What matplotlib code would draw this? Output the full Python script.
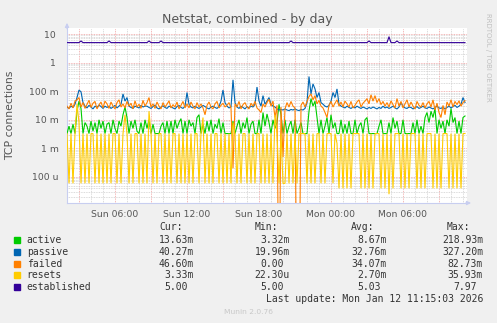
import numpy as np
import matplotlib
matplotlib.use("Agg")
import matplotlib.pyplot as plt
from matplotlib.ticker import FixedLocator, NullFormatter



# samples every 10 minutes, starting Sun 02:00 (hours since Sun 00:00)
t_start = 2.0
t_step = 1.0 / 6.0

# all series below in milli-connections
active_m = [
    3.3, 6, 3.3, 7, 3.3, 20, 45, 25, 3.3, 8, 6, 3.3, 9, 4, 8, 3.3, 10, 5, 9, 3.3,
    7, 8, 3.3, 10, 5, 3.3, 9, 6, 15, 28, 12, 3.3, 9, 5, 10, 4, 3.3, 8, 3.3, 10,
    5, 10, 3.3, 7, 3.3, 3.3, 3.3, 6, 8, 3.3, 9, 3.3, 9, 3.3, 10, 5, 8, 11, 3.3, 9,
    3.3, 10, 6, 8, 3.3, 12, 15, 3.3, 7, 3.3, 9, 4, 10, 3.3, 7, 5, 11, 3.3, 8, 3.3,
    3.3, 3.3, 3.3, 9, 3.3, 6, 10, 3.3, 8, 5, 12, 3.3, 7, 9, 3.3, 3.3, 10, 3.3, 18, 6,
    16, 8, 3.3, 10, 5, 8, 35, 15, 3.3, 10, 3.3, 6, 9, 3.3, 10, 3.3, 5, 8, 3.3, 3.3,
    3.3, 20, 55, 30, 45, 12, 3.3, 10, 3.3, 6, 12, 3.3, 15, 5, 8, 3.3, 3.3, 10, 3.3, 7,
    3.3, 9, 3.3, 3.3, 10, 3.3, 6, 8, 3.3, 10, 12, 3.3, 3.3, 3.3, 3.3, 3.3, 6, 10, 3.3, 3.3,
    3.3, 8, 3.3, 12, 5, 9, 3.3, 3.3, 10, 3.3, 3.3, 3.3, 3.3, 8, 3.3, 10, 3.3, 6, 3.3, 12,
    18, 8, 20, 12, 25, 3.3, 10, 5, 9, 3.3, 10, 6, 25, 8, 12, 3.3, 9, 3.3, 12, 13.6,
]

passive_m = [
    28, 25, 30, 27, 35, 60, 110, 95, 40, 30, 26, 32, 28, 24, 30, 27, 33, 29, 25, 30,
    27, 30, 25, 28, 32, 26, 30, 35, 80, 45, 60, 30, 27, 25, 30, 28, 26, 32, 28, 30,
    30, 27, 25, 29, 33, 26, 24, 28, 31, 27, 25, 30, 28, 26, 24, 29, 32, 27, 25, 30,
    90, 35, 28, 26, 30, 27, 25, 28, 32, 29, 26, 24, 28, 30, 27, 25, 29, 45, 110, 40,
    30, 26, 28, 250, 40, 28, 25, 30, 27, 24, 29, 26, 30, 28, 35, 140, 45, 30, 70, 35,
    45, 60, 35, 30, 28, 24, 22, 23, 22, 24, 22, 21, 23, 22, 24, 22, 21, 23, 22, 25,
    40, 327, 80, 180, 120, 60, 90, 40, 35, 30, 28, 32, 45, 90, 60, 120, 35, 30, 28, 26,
    30, 27, 25, 28, 26, 30, 27, 25, 28, 26, 24, 27, 25, 28, 26, 24, 27, 25, 30, 26,
    28, 25, 27, 30, 26, 24, 28, 40, 30, 26, 25, 28, 27, 24, 26, 29, 25, 27, 30, 26,
    25, 28, 26, 24, 27, 30, 26, 25, 28, 24, 27, 30, 26, 29, 32, 27, 30, 35, 60, 40.27,
]

failed_m = [
    30, 24, 38, 26, 45, 50, 60, 28, 40, 25, 35, 48, 27, 38, 44, 24, 33, 42, 26, 45,
    36, 25, 42, 30, 24, 40, 50, 28, 36, 26, 44, 30, 38, 24, 46, 28, 35, 25, 48, 30,
    40, 60, 28, 36, 25, 42, 30, 24, 40, 28, 35, 46, 26, 34, 28, 42, 24, 32, 44, 26,
    36, 26, 42, 30, 24, 40, 28, 36, 26, 15, 32, 42, 28, 24, 36, 44, 26, 32, 38, 28,
    32, 40, 26, 0.2, 36, 28, 44, 24, 34, 40, 28, 24, 38, 30, 44, 26, 22, 18, 36, 28,
    40, 52, 30, 45, 12, 32, 0, 28, 0.5, 24, 40, 28, 44, 30, 26, 0, 0, 32, 42, 28,
    44, 65, 80, 50, 70, 36, 48, 30, 26, 18, 12, 32, 44, 28, 38, 50, 30, 42, 28, 45,
    36, 28, 44, 26, 32, 42, 50, 28, 38, 45, 55, 36, 75, 45, 70, 40, 55, 34, 44, 30,
    40, 28, 46, 34, 26, 55, 30, 44, 26, 36, 50, 28, 42, 30, 24, 44, 32, 28, 40, 26,
    36, 44, 28, 50, 22, 38, 18, 12, 32, 15, 42, 30, 50, 28, 44, 34, 46, 30, 40, 46.6,
]

resets_m = [
    3.3, 0.06, 3.3, 0.06, 3.3, 36, 8, 0.06, 3.3, 0.06, 3.3, 0.06, 3.3, 3.3, 0.06, 3.3, 0.06, 3.3, 0.06, 3.3,
    0.06, 3.3, 0.06, 3.3, 3.3, 0.06, 3.3, 0.06, 3.3, 15, 3.3, 0.06, 3.3, 0.06, 3.3, 3.3, 0.06, 3.3, 0.06, 3.3,
    0.06, 20, 3.3, 0.06, 3.3, 0.06, 3.3, 3.3, 0.06, 3.3, 0.06, 3.3, 0.06, 3.3, 3.3, 0.06, 3.3, 0.06, 3.3, 0.06,
    3.3, 0.06, 3.3, 0.06, 3.3, 3.3, 0.06, 3.3, 12, 0.06, 3.3, 0.06, 3.3, 0.06, 3.3, 3.3, 0.06, 3.3, 0.06, 3.3,
    0.06, 3.3, 0.06, 8, 3.3, 0.06, 3.3, 0.06, 3.3, 3.3, 0.06, 3.3, 0.06, 3.3, 0.06, 3.3, 3.3, 0.06, 3.3, 0.06,
    3.3, 0.06, 3.3, 0.06, 15, 3.3, 0.06, 3.3, 0.06, 0.06, 3.3, 0.06, 3.3, 0.06, 3.3, 0.06, 3.3, 3.3, 3.3, 3.3,
    0.06, 3.3, 0.06, 3.3, 0.06, 3.3, 3.3, 0.06, 3.3, 0.06, 3.3, 3.3, 3.3, 0.06, 3.3, 1.5, 0.04, 3.3, 0.04, 3.3,
    0.04, 3.3, 0.04, 3.3, 3.3, 3.3, 3.3, 0.04, 3.3, 0.04, 3.3, 0.04, 3.3, 0.04, 3.3, 3.3, 3.3, 0.04, 3.3, 0.04,
    3.3, 0.025, 3.3, 0.04, 3.3, 3.3, 3.3, 0.04, 3.3, 0.04, 3.3, 0.04, 3.3, 3.3, 3.3, 0.04, 3.3, 0.04, 3.3, 0.04,
    3.3, 3.3, 3.3, 0.04, 3.3, 0.04, 3.3, 0.04, 3.3, 3.3, 3.3, 0.04, 3.3, 0.04, 3.3, 0.04, 3.3, 0.04, 3.3, 3.33,
]

established = [
    5, 5, 5, 5, 5, 5, 5, 5.7, 5, 5, 5, 5, 5, 5, 5, 5, 5, 5, 5, 5,
    5, 5.7, 5, 5, 5, 5, 5, 5, 5, 5, 5, 5, 5, 5, 5, 5, 5, 5, 5, 5,
    5, 5.7, 5, 5, 5, 5, 5, 5.7, 5, 5, 5, 5, 5, 5, 5, 5, 5, 5, 5, 5,
    5, 5, 5, 5, 5, 5, 5, 5, 5, 5, 5, 5, 5, 5, 5, 5, 5, 5, 5, 5,
    5, 5, 5, 5, 5, 5, 5, 5, 5, 5, 5, 5, 5, 5, 5, 5, 5, 5, 5, 5,
    5, 5, 5, 5, 5, 5, 5, 5, 5, 5, 5, 5, 5.7, 5, 5, 5, 5, 5, 5, 5,
    5, 5, 5, 5, 5, 5, 5, 5, 5, 5, 5, 5, 5, 5, 5, 5, 5, 5, 5, 5,
    5, 5, 5, 5, 5, 5, 5, 5, 5, 5, 5, 5.7, 5, 5, 5, 5, 5, 5, 5, 5,
    5, 7.97, 5, 5, 5, 5.7, 5, 5, 5, 5, 5, 5, 5, 5, 5, 5, 5, 5, 5, 5,
    5, 5, 5, 5, 5, 5, 5, 5, 5, 5, 5, 5, 5, 5, 5, 5, 5, 5, 5, 5,
]

names = ['active', 'passive', 'failed', 'resets', 'established']
colors = ['#00cc00', '#0066b3', '#ff8000', '#ffcc00', '#330099']

# legend table (Cur, Min, Avg, Max)
stats = [
    ['13.63m', '3.32m', '8.67m', '218.93m'],
    ['40.27m', '19.96m', '32.76m', '327.20m'],
    ['46.60m', '0.00', '34.07m', '82.73m'],
    ['3.33m', '22.30u', '2.70m', '35.93m'],
    ['5.00', '5.00', '5.03', '7.97'],
]

ytick_vals = [1e-4, 1e-3, 1e-2, 1e-1, 1, 10]
ytick_labels = ['100 u', '1 m', '10 m', '100 m', '1 ', '10 ']
xtick_hours = [6, 12, 18, 24, 30]
xtick_labels = ['Sun 06:00', 'Sun 12:00', 'Sun 18:00', 'Mon 00:00', 'Mon 06:00']

W, H = 497, 323
bg = '#f0f0f0'
fig = plt.figure(figsize=(W / 100, H / 100), dpi=100, facecolor=bg)

def fx(px):
    return px / W

def fy(py):
    return 1 - py / H

ax = fig.add_axes([fx(67), fy(203), 400 / W, 175 / H], facecolor='white')
ax.set_yscale('log')

series = [active_m, passive_m, failed_m, resets_m]
n = len(active_m)
t = t_start + t_step * np.arange(n)
for vals, c in zip(series, colors[:4]):
    y = np.maximum(np.array(vals) / 1000.0, 1e-9)
    ax.plot(t, y, color=c, lw=0.8, zorder=3, solid_joinstyle='miter')
ax.plot(t, established, color=colors[4], lw=0.8, zorder=3)

ax.set_xlim(t_start, t_start + 400 / 12)
ax.set_ylim(10 ** (1 - 169 / 28.6), 10 ** (1 + 6 / 28.6))

# grid: minor grey dotted, major light red dotted
minor_y = [m * 10.0 ** e for e in range(-6, 2) for m in range(2, 10)]
ax.yaxis.set_major_locator(FixedLocator(ytick_vals))
ax.yaxis.set_minor_locator(FixedLocator(minor_y))
ax.set_yticklabels(ytick_labels)
ax.yaxis.set_minor_formatter(NullFormatter())

major_x = list(range(3, 36, 3))
ax.xaxis.set_major_locator(FixedLocator(major_x))
ax.xaxis.set_minor_locator(FixedLocator(list(range(2, 36))))
ax.set_xticklabels([xtick_labels[xtick_hours.index(h)] if h in xtick_hours else '' for h in major_x])

ax.grid(which='minor', color='#cfcfcf', lw=0.6, ls=(0, (1, 1)), zorder=1)
ax.grid(which='major', color='#f0a0a0', lw=0.6, ls=(0, (1, 1)), zorder=2)

ax.tick_params(which='both', length=0, labelsize=6.7, labelcolor='#555555')
ax.tick_params(axis='y', pad=6)
ax.tick_params(axis='x', pad=5)

for s in ['top', 'right']:
    ax.spines[s].set_visible(False)
for s in ['left', 'bottom']:
    ax.spines[s].set_color('#c8cef0')
    ax.spines[s].set_linewidth(0.8)

# axis arrows
ax.annotate('', xy=(0, 1.045), xytext=(0, 0.98), xycoords='axes fraction',
            arrowprops=dict(arrowstyle='-|>', color='#c8cef0', lw=0.8, mutation_scale=6),
            annotation_clip=False)
ax.annotate('', xy=(1.017, 0), xytext=(0.99, 0), xycoords='axes fraction',
            arrowprops=dict(arrowstyle='-|>', color='#c8cef0', lw=0.8, mutation_scale=6),
            annotation_clip=False)

fig.text(fx(247), fy(19), 'Netstat, combined - by day', ha='center', va='center',
         fontsize=9, color='#555555')
fig.text(fx(10), fy(115), 'TCP connections', ha='center', va='center',
         rotation=90, fontsize=7.8, color='#555555')
fig.text(fx(488), fy(57), 'RRDTOOL / TOBI OETIKER', ha='center', va='center',
         rotation=270, fontsize=5, color='#c0c0c0')

# legend
mono = 'DejaVu Sans Mono'
fs = 7
charw = 5.85
txtc = '#333333'
headers = ['Cur:', 'Min:', 'Avg:', 'Max:']
head_x = [159, 255, 351, 447]
right_x = [194, 290, 387, 483]
for hx, h in zip(head_x, headers):
    fig.text(fx(hx), fy(227), h, ha='left', va='center', fontsize=fs, family=mono, color=txtc)

row_y = [240, 251.8, 263.6, 275.4, 287.2]
for ry, name, c, row in zip(row_y, names, colors, stats):
    fig.patches.append(plt.Rectangle((fx(14), fy(ry + 3)), 6 / W, 6 / H,
                                     transform=fig.transFigure, color=c, figure=fig))
    fig.text(fx(26.7), fy(ry), name, ha='left', va='center', fontsize=fs, family=mono, color=txtc)
    for rx, v in zip(right_x, row):
        shift = 0 if v[-1] in 'mu' else charw
        fig.text(fx(rx - shift), fy(ry), v, ha='right', va='center', fontsize=fs,
                 family=mono, color=txtc)

fig.text(fx(483), fy(299.5), 'Last update: Mon Jan 12 11:15:03 2026', ha='right',
         va='center', fontsize=fs, family=mono, color=txtc)
fig.text(fx(248), fy(312), 'Munin 2.0.76', ha='center', va='center', fontsize=5.4,
         color='#c8c8c8')

fig.savefig('out.png', dpi=100, facecolor=bg)
